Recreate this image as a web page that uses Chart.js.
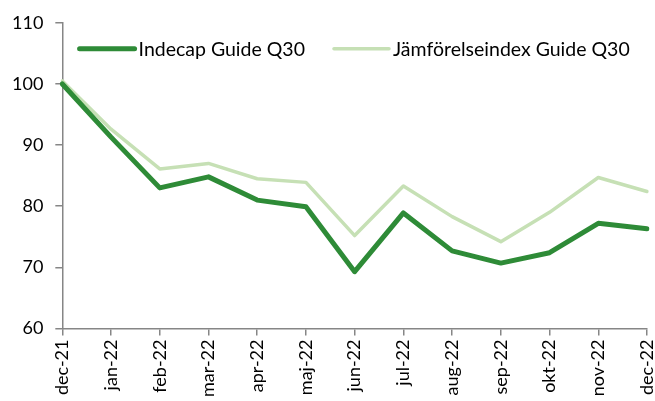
<!DOCTYPE html>
<html>
<head>
<meta charset="utf-8">
<script src="https://cdn.jsdelivr.net/npm/chart.js@4"></script>
<style>
  html, body { margin: 0; padding: 0; background: #fff; }
  #wrap { width: 655px; height: 401px; }
</style>
</head>
<body>
<div id="wrap"><canvas id="chart"></canvas></div>
<script>
// Månader på x-axeln
const labels = ['dec-21', 'jan-22', 'feb-22', 'mar-22', 'apr-22', 'maj-22', 'jun-22',
                'jul-22', 'aug-22', 'sep-22', 'okt-22', 'nov-22', 'dec-22'];

// Indexvärden
const indecap = [100, 91.3, 83.0, 84.8, 81.0, 79.9, 69.3, 78.9, 72.7, 70.7, 72.4, 77.2, 76.3];
const jamforelse = [100.5, 92.6, 86.1, 87.0, 84.5, 83.9, 75.2, 83.3, 78.3, 74.2, 79.0, 84.7, 82.4];

const axisColor = '#868686';
const fontFamily = 'Lato, "Liberation Sans", sans-serif';

// Legenden ligger inne i diagramytan, så den ritas här
const insideLegend = {
    id: 'insideLegend',
    afterDatasetsDraw(chart) {
        const c = chart.ctx;
        const area = chart.chartArea;
        const lineW = 55, gap = 4, itemGap = 29;
        c.save();
        c.font = '19.5px ' + fontFamily;
        const items = chart.data.datasets.map(ds => ({
            ds: ds,
            textW: c.measureText(ds.label).width
        }));
        let total = 0;
        items.forEach((it, i) => {
            total += lineW + gap + it.textW + (i > 0 ? itemGap : 0);
        });
        let x = (area.left + area.right) / 2 - total / 2;
        const y = area.top + 26;
        items.forEach(it => {
            c.strokeStyle = it.ds.borderColor;
            c.lineWidth = it.ds.borderWidth;
            c.lineCap = 'round';
            c.beginPath();
            c.moveTo(x, y);
            c.lineTo(x + lineW, y);
            c.stroke();
            c.fillStyle = '#000';
            c.textBaseline = 'middle';
            c.textAlign = 'left';
            c.fillText(it.ds.label, x + lineW + gap, y + 1);
            x += lineW + gap + it.textW + itemGap;
        });
        c.restore();
    }
};

const ctx = document.getElementById('chart').getContext('2d');
const chart = new Chart(ctx, {
    type: 'line',
    data: {
        labels: labels,
        datasets: [
            {
                label: 'Indecap Guide Q30',
                data: indecap,
                borderColor: '#2e8b37',
                borderWidth: 5,
                borderCapStyle: 'round',
                borderJoinStyle: 'round',
                pointRadius: 0,
                tension: 0
            },
            {
                label: 'Jämförelseindex Guide Q30',
                data: jamforelse,
                borderColor: '#c6e0b5',
                borderWidth: 3.5,
                borderCapStyle: 'round',
                borderJoinStyle: 'round',
                pointRadius: 0,
                tension: 0
            }
        ]
    },
    options: {
        responsive: true,
        maintainAspectRatio: false,
        animation: false,
        layout: {
            padding: { top: 12, right: 8, left: 0, bottom: 0 }
        },
        scales: {
            x: {
                offset: false,
                grid: {
                    drawOnChartArea: false,
                    drawTicks: true,
                    tickLength: 7,
                    color: axisColor,
                    lineWidth: 1.5
                },
                border: { color: axisColor, width: 1.5 },
                ticks: {
                    color: '#000',
                    font: { family: fontFamily, size: 18 },
                    maxRotation: 90,
                    minRotation: 90,
                    autoSkip: false,
                    padding: 4
                },
                afterFit(scale) {
                    scale.paddingRight = 0;
                    scale.paddingLeft = 0;
                }
            },
            y: {
                min: 60,
                max: 110,
                grid: {
                    drawOnChartArea: false,
                    drawTicks: true,
                    tickLength: 7,
                    color: axisColor,
                    lineWidth: 1.5
                },
                border: { color: axisColor, width: 1.5 },
                ticks: {
                    stepSize: 10,
                    color: '#000',
                    font: { family: fontFamily, size: 18 },
                    padding: 12
                }
            }
        },
        plugins: {
            legend: { display: false },
            tooltip: { enabled: false }
        }
    },
    plugins: [insideLegend]
});
</script>
</body>
</html>
